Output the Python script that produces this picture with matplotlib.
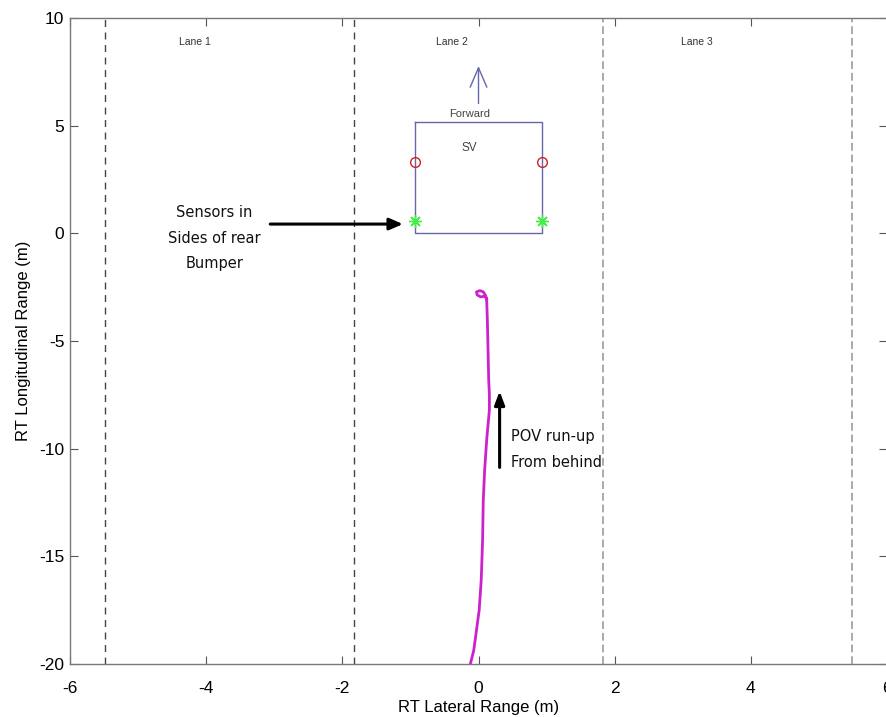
import matplotlib
matplotlib.use('Agg')
import matplotlib.pyplot as plt
import numpy as np

plt.rcParams['axes.unicode_minus'] = False

# lane boundaries (m)
lane_edges_dark = [-5.49, -1.83]
lane_edges_light = [1.83, 5.49]
lane_names = ['Lane 1', 'Lane 2', 'Lane 3']
lane_label_x = [-4.4, -0.62, 2.97]

# subject vehicle outline
sv_x = [-0.93, 0.93, 0.93, -0.93, -0.93]
sv_y = [5.15, 5.15, 0.0, 0.0, 5.15]
front_sensor_x = [-0.93, 0.93]
front_sensor_y = [3.3, 3.3]
rear_sensor_x = [-0.93, 0.93]
rear_sensor_y = [0.56, 0.56]

# POV track, bottom to top then the small loop
pov_y = [-20.0, -19.37, -18.44, -17.5, -16.1, -14.26, -12.4, -11.0, -9.6,
         -8.2, -7.5, -6.8, -5.4, -4.0, -3.1, -2.96, -2.87, -2.72, -2.66,
         -2.72, -2.86, -2.95, -2.92, -3.05]
pov_x = [-0.12, -0.07, -0.03, 0.01, 0.04, 0.06, 0.07, 0.09, 0.12,
         0.16, 0.16, 0.15, 0.14, 0.13, 0.12, 0.11, 0.1, 0.07, 0.02,
         -0.03, -0.02, 0.03, 0.1, 0.12]

fig = plt.figure(figsize=(8.86, 7.17), dpi=100)
ax = fig.add_axes([70/886, 53/717, 817/886, 646/717])

for x in lane_edges_dark:
    ax.axvline(x, color='#444444', ls=(0, (5, 4)), lw=1.0)
for x in lane_edges_light:
    ax.axvline(x, color='#aaaaaa', ls=(0, (4, 2)), lw=1.4)
for name, x in zip(lane_names, lane_label_x):
    ax.text(x, 8.9, name, fontsize=7.5, color='#333333', family='Liberation Sans', va='center')

ax.plot(sv_x, sv_y, color='#6666aa', lw=1.0)
ax.plot(front_sensor_x, front_sensor_y, 'o', mfc='none', mec='#cc2222', ms=7, mew=1.0)
ax.plot(rear_sensor_x, rear_sensor_y, marker=(8, 2, 0), ls='none', color='#44ee44', ms=9, mew=1.0)
ax.annotate('', xy=(0, 7.9), xytext=(0, 5.9),
            arrowprops=dict(arrowstyle='->,head_length=1.4,head_width=0.6', color='#6666aa', lw=1.0))
ax.text(-0.13, 5.55, 'Forward', fontsize=8, color='#444444', ha='center', va='center',
        family='Liberation Sans')
ax.text(-0.13, 3.95, 'SV', fontsize=8.5, color='#444444', ha='center', va='center',
        family='Liberation Sans')

ax.plot(pov_x, pov_y, color='#cc22cc', lw=2.0)

ax.annotate('', xy=(-1.07, 0.43), xytext=(-3.1, 0.43),
            arrowprops=dict(arrowstyle='-|>,head_length=0.8,head_width=0.35', color='black', lw=2.2))
ax.text(-3.88, -0.22, 'Sensors in\nSides of rear\nBumper', fontsize=10.5, ha='center', va='center',
        linespacing=1.85, family='DejaVu Sans', color='#111111')
ax.annotate('', xy=(0.31, -7.2), xytext=(0.31, -11.0),
            arrowprops=dict(arrowstyle='-|>,head_length=0.8,head_width=0.3', color='black', lw=2.2))
ax.text(0.48, -10.04, 'POV run-up\nFrom behind', fontsize=10.5, ha='left', va='center',
        linespacing=1.85, family='DejaVu Sans', color='#111111')

ax.set_xlim(-6, 6)
ax.set_ylim(-20, 10)
ax.set_xticks([-6, -4, -2, 0, 2, 4, 6])
ax.set_yticks([-20, -15, -10, -5, 0, 5, 10])
ax.tick_params(direction='in', top=True, right=True, length=6, color='#555555',
               labelsize=12.5, width=0.8)
ax.tick_params(axis='x', pad=12)
ax.tick_params(axis='y', pad=4)
for lab in ax.get_xticklabels() + ax.get_yticklabels():
    lab.set_family('Liberation Sans')
for s in ax.spines.values():
    s.set_color('#777777')
    s.set_linewidth(1.0)
ax.set_xlabel('RT Lateral Range (m)', fontsize=12, family='Liberation Sans', labelpad=3)
ax.set_ylabel('RT Longitudinal Range (m)', fontsize=12, family='Liberation Sans', labelpad=6)

fig.savefig('out.png', dpi=100)
